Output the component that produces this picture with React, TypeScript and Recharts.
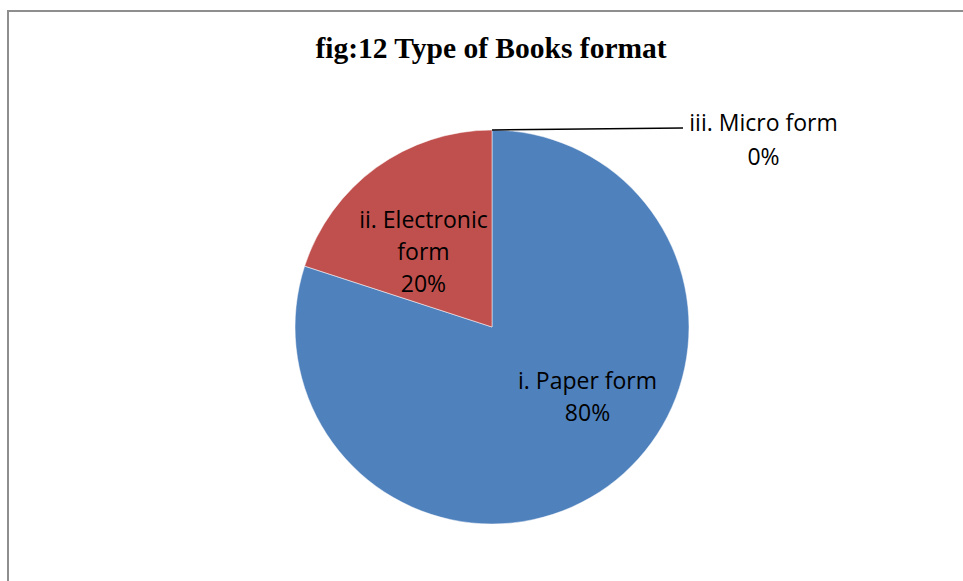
import React from "react";
import { PieChart, Pie, Cell } from "recharts";

const categories = ["i. Paper form", "ii. Electronic form", "iii. Micro form"];
const labelLines = [["i. Paper form"], ["ii. Electronic", "form"], ["iii. Micro form"]];
const values = [80, 20, 0];
const colors = ["#4F81BD", "#C0504D", "#9BBB59"];
const title = "fig:12 Type of Books format";

const data = categories.map((name, i) => ({ name, value: values[i] }));

const RAD = Math.PI / 180;
const LABEL_FONT = "'Open Sans', 'Noto Sans', sans-serif";
const LABEL_SIZE = 23;
const LINE_H = 32;

const renderLabel = (props: any) => {
  const { cx, cy, midAngle, outerRadius, index, percent } = props;
  const pct = `${Math.round(percent * 100)}%`;
  const lines = [...labelLines[index], pct];
  if (values[index] === 0) {
    const x0 = cx + outerRadius * Math.cos(-midAngle * RAD);
    const y0 = cy + outerRadius * Math.sin(-midAngle * RAD);
    const x1 = x0 + 191;
    const y1 = y0 - 2;
    const tx = x1 + 4;
    const textW = 153;
    return (
      <g key={`lbl-${index}`}>
        <line x1={x0} y1={y0} x2={x1} y2={y1} stroke="#000" strokeWidth={1.5} />
        <text x={tx + textW / 2} y={y1 - 6} textAnchor="middle" dominantBaseline="central"
          fontFamily={LABEL_FONT} fontSize={LABEL_SIZE} fill="#000">{lines[0]}</text>
        <text x={tx + textW / 2} y={y1 - 6 + 34} textAnchor="middle" dominantBaseline="central"
          fontFamily={LABEL_FONT} fontSize={LABEL_SIZE} fill="#000">{lines[1]}</text>
      </g>
    );
  }
  const r = outerRadius * 0.54;
  const adj = index === 0 ? { x: 33, y: -17 } : { x: -6, y: 10 };
  const lx = cx + r * Math.cos(-midAngle * RAD) + adj.x;
  const ly = cy + r * Math.sin(-midAngle * RAD) + adj.y;
  const top = ly - ((lines.length - 1) * LINE_H) / 2;
  return (
    <g key={`lbl-${index}`}>
      {lines.map((t, i) => (
        <text key={i} x={lx} y={top + i * LINE_H} textAnchor="middle" dominantBaseline="central"
          fontFamily={LABEL_FONT} fontSize={LABEL_SIZE} fill="#000">{t}</text>
      ))}
    </g>
  );
};

export default function App() {
  return (
    <div style={{ position: "fixed", left: 0, top: 0, width: 963, height: 581, overflow: "hidden", background: "#fff" }}>
      <div style={{ position: "absolute", left: 7, top: 10, width: 1100, height: 1100, borderLeft: "2px solid #8e8e8e", borderTop: "2px solid #8e8e8e" }} />
      <div style={{ position: "absolute", left: 0, top: 32, width: 982, textAlign: "center", fontFamily: "'Liberation Serif', 'Times New Roman', serif", fontWeight: "bold", fontSize: 29.5, color: "#000", lineHeight: "32px", whiteSpace: "nowrap" }}>
        {title}
      </div>
      <div style={{ position: "absolute", left: 0, top: 0 }}>
        <PieChart width={963} height={581} margin={{ top: 0, right: 0, bottom: 0, left: 0 }}>
          <Pie
            data={data}
            dataKey="value"
            nameKey="name"
            cx={492}
            cy={327}
            outerRadius={197}
            startAngle={90}
            endAngle={-270}
            stroke="#ffffff"
            strokeWidth={0.5}
            label={renderLabel}
            labelLine={false}
            isAnimationActive={false}
          >
            {data.map((d, i) => (
              <Cell key={d.name} fill={colors[i]} />
            ))}
          </Pie>
        </PieChart>
      </div>
    </div>
  );
}
